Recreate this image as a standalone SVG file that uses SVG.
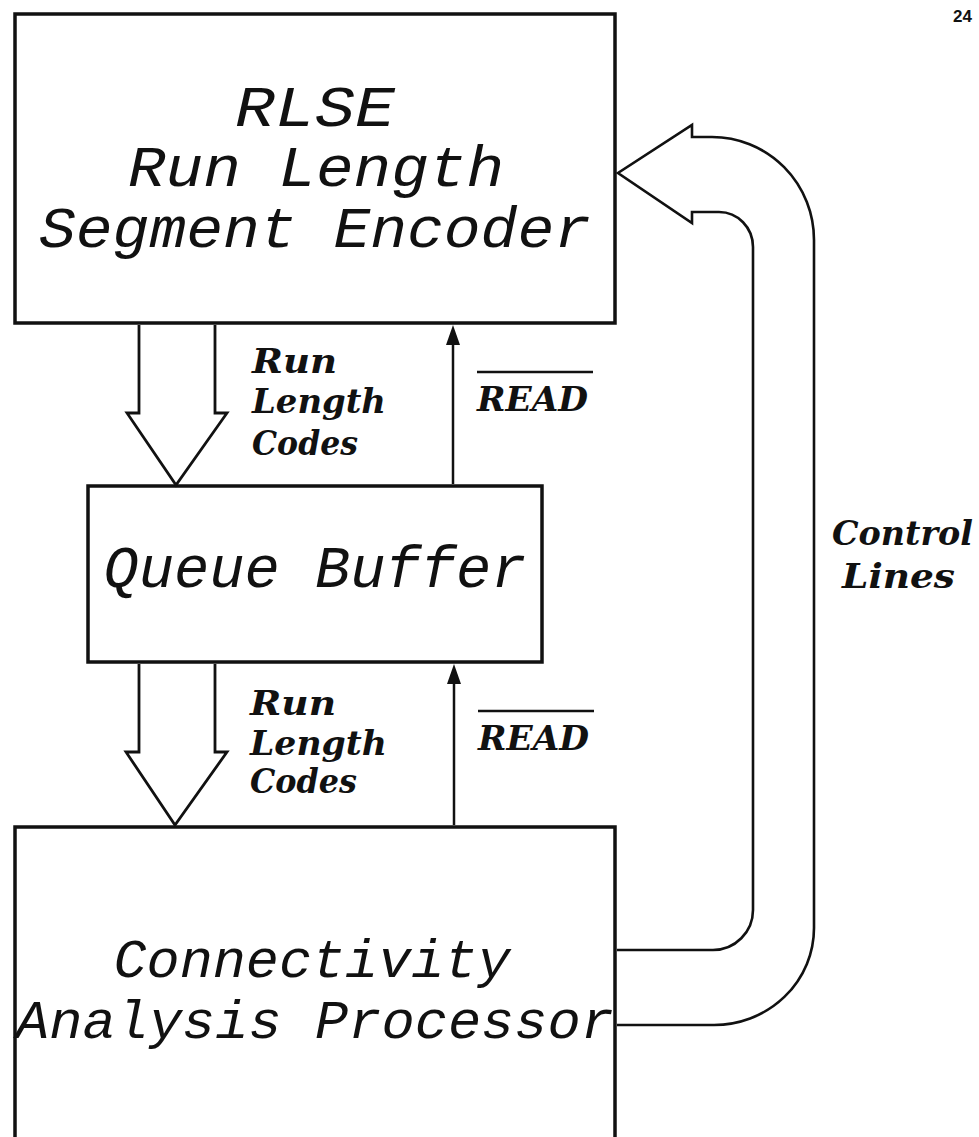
<svg xmlns="http://www.w3.org/2000/svg" width="979" height="1137" viewBox="0 0 979 1137">
<style>
.box{fill:#fff;stroke:#111;stroke-width:3.5}
.big{font-family:"Liberation Mono","DejaVu Sans Mono",monospace;font-style:italic;fill:#111;text-anchor:middle}
.lbl{font-family:"DejaVu Serif","Liberation Serif",serif;font-style:italic;font-weight:bold;font-size:33px;fill:#111}
.hollow{fill:#fff;stroke:#111;stroke-width:2.8;stroke-linejoin:miter}
.thin{fill:none;stroke:#111;stroke-width:2.5}
.ctrl{fill:#fff;stroke:#111;stroke-width:2.6;stroke-linejoin:miter}
</style>
<rect width="979" height="1137" fill="#fff"/>
<text x="953" y="22" font-family="Liberation Sans, Arial, sans-serif" font-weight="bold" font-size="17" fill="#111">24</text>

<g id="rlse">
<rect class="box" x="15" y="14" width="600" height="309"/>
<text class="big" x="315" y="126" font-size="57" textLength="160" lengthAdjust="spacingAndGlyphs">RLSE</text>
<text class="big" x="316" y="186" font-size="57" textLength="376" lengthAdjust="spacingAndGlyphs">Run Length</text>
<text class="big" x="315" y="247" font-size="57" textLength="552" lengthAdjust="spacingAndGlyphs">Segment Encoder</text>
</g>

<g id="queue">
<rect class="box" x="88" y="486" width="454" height="176"/>
<text class="big" x="315" y="587" font-size="60" textLength="423" lengthAdjust="spacingAndGlyphs">Queue Buffer</text>
</g>

<g id="cap">
<rect class="box" x="15" y="827" width="600" height="330"/>
<text class="big" x="312" y="977" font-size="54" textLength="397" lengthAdjust="spacingAndGlyphs">Connectivity</text>
<text class="big" x="315" y="1038" font-size="54" textLength="598" lengthAdjust="spacingAndGlyphs">Analysis Processor</text>
</g>

<g id="connectors">
<path class="hollow" d="M139 325 V413 H127 L176 485 L227 413 H215 V325"/>
<path class="hollow" d="M139 664 V752 H126 L175 825 L227 752 H215 V664"/>
<line x1="453" y1="484" x2="453" y2="341" class="thin"/>
<path d="M453 325 L446 345 L460 345 Z" fill="#111"/>
<line x1="454" y1="825" x2="454" y2="680" class="thin"/>
<path d="M454 664 L447 684 L461 684 Z" fill="#111"/>
<path class="ctrl" d="M617 1025 H713 A100 97 0 0 0 814 928 V240 A102 103 0 0 0 712 137 H692 V125 L618 173 L692 223 V212 H719 A34 35 0 0 1 753 247 V910 A40 40 0 0 1 713 950 H617"/>
</g>

<g id="labels">
<text class="lbl" x="252" y="373" textLength="85" lengthAdjust="spacingAndGlyphs">Run</text>
<text class="lbl" x="252" y="413" textLength="134" lengthAdjust="spacingAndGlyphs">Length</text>
<text class="lbl" x="252" y="455" textLength="106" lengthAdjust="spacingAndGlyphs">Codes</text>
<text class="lbl" x="477" y="411" textLength="111" lengthAdjust="spacingAndGlyphs">READ</text>
<line x1="477" y1="372" x2="593" y2="372" class="thin"/>

<text class="lbl" x="250" y="715" textLength="86" lengthAdjust="spacingAndGlyphs">Run</text>
<text class="lbl" x="250" y="755" textLength="137" lengthAdjust="spacingAndGlyphs">Length</text>
<text class="lbl" x="250" y="793" textLength="107" lengthAdjust="spacingAndGlyphs">Codes</text>
<text class="lbl" x="478" y="750" textLength="111" lengthAdjust="spacingAndGlyphs">READ</text>
<line x1="478" y1="711" x2="594" y2="711" class="thin"/>

<text class="lbl" x="832" y="545" textLength="141" lengthAdjust="spacingAndGlyphs">Control</text>
<text class="lbl" x="842" y="588" textLength="113" lengthAdjust="spacingAndGlyphs">Lines</text>
</g>
</svg>
